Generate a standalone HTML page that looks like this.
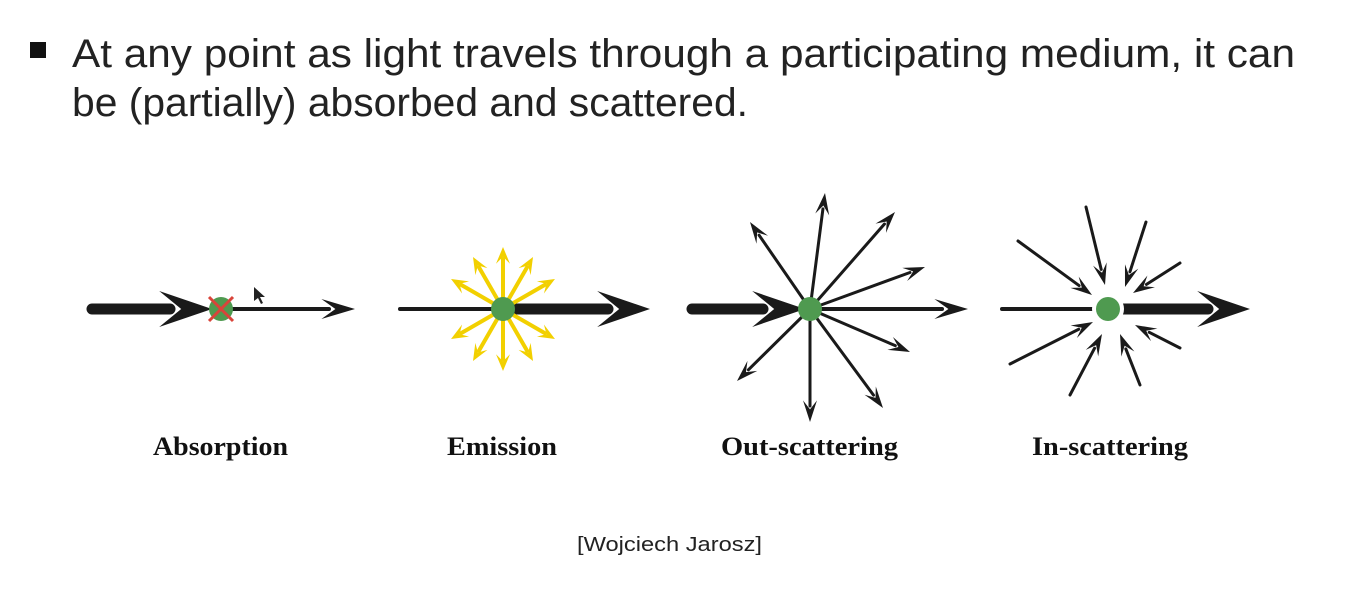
<!DOCTYPE html>
<html><head><meta charset="utf-8"><style>
html,body{margin:0;padding:0;background:#fff;width:1349px;height:606px;overflow:hidden}
svg{display:block}
</style></head><body>
<svg id="s" width="1349" height="606" viewBox="0 0 1349 606">
<rect x="30" y="42" width="16" height="16" fill="#111"/>
<text x="72" y="67" font-family="Liberation Sans, sans-serif" font-size="40" fill="#222" textLength="1223" lengthAdjust="spacingAndGlyphs">At any point as light travels through a participating medium, it can</text>
<text x="72" y="116" font-family="Liberation Sans, sans-serif" font-size="40" fill="#222" textLength="676" lengthAdjust="spacingAndGlyphs">be (partially) absorbed and scattered.</text>
<g id="g"></g>
<g font-family="Liberation Serif, serif" font-weight="bold" font-size="26" fill="#111">
<text x="153" y="455" textLength="135" lengthAdjust="spacingAndGlyphs">Absorption</text>
<text x="447" y="455" textLength="110" lengthAdjust="spacingAndGlyphs">Emission</text>
<text x="721" y="455" textLength="177" lengthAdjust="spacingAndGlyphs">Out-scattering</text>
<text x="1032" y="455" textLength="156" lengthAdjust="spacingAndGlyphs">In-scattering</text>
</g>
<text x="577" y="551" font-family="Liberation Sans, sans-serif" font-size="20" fill="#222" textLength="185" lengthAdjust="spacingAndGlyphs">[Wojciech Jarosz]</text>
</svg>
<script>
var NS='http://www.w3.org/2000/svg';
var g=document.getElementById('g');
function mk(t,a,name){var e=document.createElementNS(NS,t);for(var k in a)e.setAttribute(k,a[k]);


g.appendChild(e);return e;}
function arrow(x1,y1,x2,y2,w,hl,hw,col,name){
 var dx=x2-x1,dy=y2-y1,L=Math.hypot(dx,dy),ux=dx/L,uy=dy/L;
 var bx=x2-ux*hl,by=y2-uy*hl;
 mk('line',{x1:x1,y1:y1,x2:bx+ux*2,y2:by+uy*2,stroke:col,'stroke-width':w,'stroke-linecap':'round'},name+'-shaft');
 var px=-uy,py=ux;
 mk('polygon',{points:[x2,y2,bx+px*hw-ux*hl*0.2,by+py*hw-uy*hl*0.2,bx+ux*hl*0.3,by+uy*hl*0.3,bx-px*hw-ux*hl*0.2,by-py*hw-uy*hl*0.2].join(','),fill:col},name+'-head');
}
var K='#1a1a1a';
arrow(92,309,212,309,11,44,18,K,'absorption-incoming-arrow');
arrow(221,309,355,309,4,28,10,K,'absorption-outgoing-arrow');
mk('circle',{cx:221,cy:309,r:12,fill:'#4f9a50'},'absorption-particle');
mk('line',{x1:209,y1:297,x2:233,y2:321,stroke:'#d9443a','stroke-width':3},'absorption-cross-1');
mk('line',{x1:233,y1:297,x2:209,y2:321,stroke:'#d9443a','stroke-width':3},'absorption-cross-2');
arrow(400,309,503,309,4,10,0,K,'emission-incoming-line');
arrow(503,309,650,309,11,44,18,K,'emission-outgoing-arrow');
var ang=[90,60,30,-30,-60,-90,-120,-150,150,120];
for(var i=0;i<ang.length;i++){var a=ang[i]*Math.PI/180;var r=(Math.abs(ang[i])==90)?62:60;
 arrow(503,309,503+Math.cos(a)*r,309-Math.sin(a)*r,4,14,7,'#f2d000','emission-ray-'+i);}
mk('circle',{cx:503,cy:309,r:12,fill:'#4f9a50'},'emission-particle');
arrow(692,309,805,309,11,44,18,K,'outscatter-incoming-arrow');
arrow(810,309,968,309,4,28,10,K,'outscatter-outgoing-arrow');
var outs=[[825,193],[895,212],[925,267],[910,352],[883,408],[810,422],[737,381],[750,222]];
for(var i=0;i<outs.length;i++)arrow(810,309,outs[i][0],outs[i][1],3,18,7,K,'outscatter-ray-'+i);
mk('circle',{cx:810,cy:309,r:12,fill:'#4f9a50'},'outscatter-particle');
arrow(1002,309,1108,309,4,10,0,K,'inscatter-incoming-line');
arrow(1108,309,1250,309,11,44,18,K,'inscatter-outgoing-arrow');
var ins=[[1086,207,1105,285],[1146,222,1125,287],[1180,263,1133,293],[1018,241,1092,295],[1010,364,1093,322],[1070,395,1102,334],[1140,385,1120,334],[1180,348,1135,325]];
for(var i=0;i<ins.length;i++)arrow(ins[i][0],ins[i][1],ins[i][2],ins[i][3],3,18,7,K,'inscatter-ray-'+i);
mk('circle',{cx:1108,cy:309,r:16,fill:'#fff'},'inscatter-halo');
mk('circle',{cx:1108,cy:309,r:12,fill:'#4f9a50'},'inscatter-particle');
mk('polygon',{points:'254,287 254,301 258,298 261,304 263,303 260,297 265,297',fill:'#222'},'mouse-cursor');
</script>
</body></html>
